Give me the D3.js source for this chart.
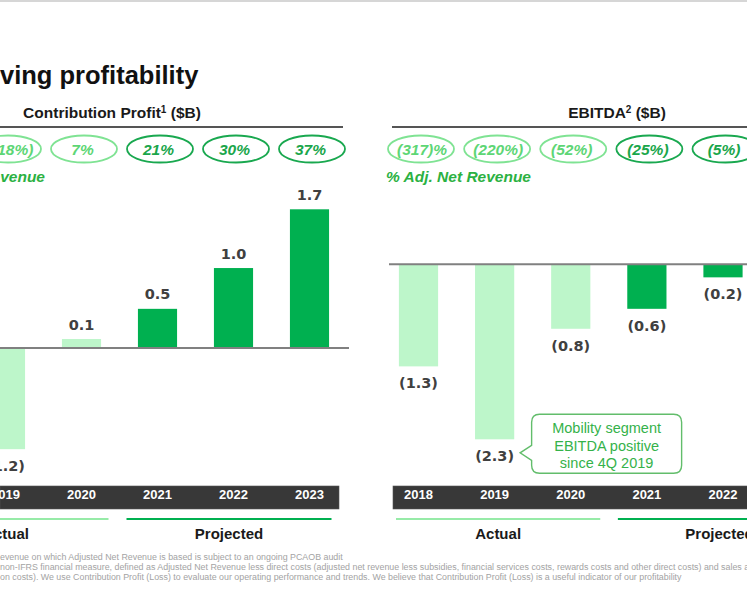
<!DOCTYPE html>
<html>
<head>
<meta charset="utf-8">
<script src="https://cdn.jsdelivr.net/npm/d3@7"></script>
<style>
  html, body { margin: 0; padding: 0; background: #ffffff; overflow: hidden; }
  svg { display: block; }
</style>
</head>
<body>
<svg id="chart" width="747" height="598"></svg>
<script>
// ---------------- DATA ----------------
const cpYears   = ["2019", "2020", "2021", "2022", "2023"];
const cpValues  = [-1.24, 0.11, 0.48, 0.98, 1.70];
const cpMargins = ["(118%)", "7%", "21%", "30%", "37%"];

const ebYears   = ["2018", "2019", "2020", "2021", "2022"];
const ebValues  = [-1.33, -2.28, -0.84, -0.58, -0.17];
const ebMargins = ["(317)%", "(220%)", "(52%)", "(25%)", "(5%)"];

const firstProjectedYear = "2021";
const titleText   = "ving profitability";
const cpHeading   = "Contribution Profit";
const ebHeading   = "EBITDA";
const marginLabel = "% Adj. Net Revenue";
const calloutLines = ["Mobility segment", "EBITDA positive", "since 4Q 2019"];
const footnotes = [
  "evenue on which Adjusted Net Revenue is based is subject to an ongoing PCAOB audit",
  "non-IFRS financial measure, defined as Adjusted Net Revenue less direct costs (adjusted net revenue less subsidies, financial services costs, rewards costs and other direct costs) and sales a",
  "on costs). We use Contribution Profit (Loss) to evaluate our operating performance and trends.  We believe that Contribution Profit (Loss) is a useful indicator of our profitability"
];

// ---------------- STYLE ----------------
const C = {
  lightBar: "#bdf6ca", darkBar: "#00b050",
  lightRing: "#7fe393", darkRing: "#19a84f",
  lightRingText: "#5dd675", darkRingText: "#1aa64b",
  marginLbl: "#2bb142", label: "#404040", band: "#383838",
  rule: "#555555", zero: "#808080", calloutStroke: "#62bd6b", calloutText: "#35b24a",
  foot: "#a3a3a3"
};
const SANS = "'Liberation Sans', Arial, sans-serif";
const LBL  = "'DejaVu Sans', Verdana, sans-serif";

const svg = d3.select("#chart");
svg.append("rect").attr("x", 0).attr("y", 0).attr("width", 747).attr("height", 2).attr("fill", "#d6d6d6");

svg.append("text").attr("x", 0).attr("y", 84)
  .attr("font-family", SANS).attr("font-weight", 700).attr("font-size", 25.5)
  .attr("fill", "#111").text(titleText);

const fmt = d3.format(".1f");
const labelOf = v => v < 0 ? `(${fmt(-v)})` : fmt(v);
const isProj = y => +y >= +firstProjectedYear;

function drawPanel(o) {
  const g = svg.append("g");
  const x = d3.scalePoint().domain(o.years).range(o.xRange);
  const step = x.step();
  const bw = step * 0.515;
  const y = d3.scaleLinear().domain(o.yDomain).range(o.yRange);
  const data = o.years.map((yr, i) => ({ yr, v: o.values[i], m: o.margins[i] }));

  // heading
  const h = g.append("text").attr("x", o.headX).attr("y", 118).attr("text-anchor", "middle")
    .attr("font-family", SANS).attr("font-weight", 700).attr("font-size", 15.5).attr("fill", "#1a1a1a");
  h.append("tspan").text(o.heading);
  h.append("tspan").attr("font-size", 10).attr("dy", -5).text(o.sup);
  h.append("tspan").attr("dy", 5).text("  ($B)");

  g.append("line").attr("x1", o.ruleX[0]).attr("x2", o.ruleX[1]).attr("y1", 127).attr("y2", 127)
    .attr("stroke", C.rule).attr("stroke-width", 2);

  // margin ellipses
  const eg = g.selectAll("g.ring").data(data).join("g").attr("class", "ring")
    .attr("transform", d => `translate(${x(d.yr) + 2.5},149)`);
  eg.append("ellipse").attr("rx", 33).attr("ry", 13.5).attr("fill", "none")
    .attr("stroke", d => isProj(d.yr) ? C.darkRing : C.lightRing).attr("stroke-width", 1.8);
  eg.append("text").attr("x", d => d.m.length > 5 ? 1 : -1.5).attr("y", 5.5).attr("text-anchor", "middle")
    .attr("font-family", SANS).attr("font-weight", 700).attr("font-style", "italic").attr("font-size", 15.5)
    .attr("fill", d => isProj(d.yr) ? C.darkRingText : C.lightRingText).text(d => d.m);

  g.append("text").attr("x", o.marginLblX).attr("y", 182).attr("text-anchor", o.marginLblAnchor)
    .attr("font-family", SANS).attr("font-weight", 700).attr("font-style", "italic").attr("font-size", 15.5)
    .attr("fill", C.marginLbl).text(marginLabel);

  // bars
  g.selectAll("rect.bar").data(data).join("rect").attr("class", "bar")
    .attr("x", d => x(d.yr) - bw / 2).attr("width", bw)
    .attr("y", d => Math.min(y(d.v), y(0))).attr("height", d => Math.abs(y(d.v) - y(0)))
    .attr("fill", d => isProj(d.yr) ? C.darkBar : C.lightBar);

  g.append("line").attr("x1", o.zeroX[0]).attr("x2", o.zeroX[1]).attr("y1", y(0)).attr("y2", y(0))
    .attr("stroke", C.zero).attr("stroke-width", 2);

  g.selectAll("text.val").data(data).join("text").attr("class", "val")
    .attr("x", d => x(d.yr)).attr("y", d => d.v >= 0 ? y(d.v) - 9.5 : y(d.v) + 22)
    .attr("text-anchor", "middle").attr("font-family", LBL).attr("font-weight", 700).attr("font-size", 14.5)
    .attr("fill", C.label).text(d => labelOf(d.v));

  // year band
  g.append("rect").attr("x", o.bandX[0]).attr("y", 486).attr("width", o.bandX[1] - o.bandX[0]).attr("height", 23)
    .attr("fill", C.band).attr("stroke", "#555").attr("stroke-width", 0.6);
  g.selectAll("text.yr").data(data).join("text").attr("class", "yr")
    .attr("x", d => x(d.yr)).attr("y", 498.5).attr("text-anchor", "middle")
    .attr("font-family", SANS).attr("font-weight", 700).attr("font-size", 13).attr("fill", "#fff")
    .text(d => d.yr);

  // group lines and labels
  o.groups.forEach(gr => {
    const x1 = gr.x1, x2 = gr.x2;
    g.append("line").attr("x1", x1).attr("x2", x2).attr("y1", 519).attr("y2", 519)
      .attr("stroke", gr.color).attr("stroke-width", 2);
    g.append("text").attr("x", (x1 + x2) / 2).attr("y", 539).attr("text-anchor", "middle")
      .attr("font-family", SANS).attr("font-weight", 700).attr("font-size", 15).attr("fill", "#1a1a1a")
      .text(gr.name);
  });
  return { x, y, step };
}

// ---------- Left: Contribution Profit ----------
const L = (() => {
  const xs = d3.scalePoint().domain(cpYears).range([5.5, 309.5]);
  const st = xs.step();
  return drawPanel({
    years: cpYears, values: cpValues, margins: cpMargins,
    xRange: [5.5, 309.5], yDomain: [0, 1.7], yRange: [348, 209.3],
    heading: cpHeading, sup: "1", headX: 112,
    ruleX: [0, 343], zeroX: [0, 349], bandX: [0, 339],
    marginLblX: 45, marginLblAnchor: "end",
    groups: [
      { name: "Actual", x1: xs("2019") - st - 26, x2: xs("2020") + 27, color: "#97eba8" },
      { name: "Projected", x1: xs("2021") - 31, x2: xs("2023") + 22, color: "#00b050" }
    ]
  });
})();

// ---------- Right: EBITDA ----------
const R = (() => {
  const xs = d3.scalePoint().domain(ebYears).range([418.5, 723]);
  const st = xs.step();
  return drawPanel({
    years: ebYears, values: ebValues, margins: ebMargins,
    xRange: [418.5, 723], yDomain: [0, -2.28], yRange: [264.3, 439.3],
    heading: ebHeading, sup: "2", headX: 617,
    ruleX: [392, 747], zeroX: [389, 747], bandX: [393, 748],
    marginLblX: 386, marginLblAnchor: "start",
    groups: [
      { name: "Actual", x1: xs("2018") - 22.5, x2: xs("2020") + 29.5, color: "#97eba8" },
      { name: "Projected", x1: xs("2021") - 29, x2: xs("2021") + st * 2 + 22, color: "#00b050" }
    ]
  });
})();

// ---------- Callout ----------
(() => {
  const tipX = R.x("2019") + 25.5, tipY = R.y(ebValues[1]) + 13.5;
  const x0 = tipX + 11.5, x1 = x0 + 150, y0 = tipY - 38.5, y1 = tipY + 20.5, r = 8;
  const p = d3.path();
  p.moveTo(x0 + r, y0); p.lineTo(x1 - r, y0); p.quadraticCurveTo(x1, y0, x1, y0 + r);
  p.lineTo(x1, y1 - r); p.quadraticCurveTo(x1, y1, x1 - r, y1);
  p.lineTo(x0 + r, y1); p.quadraticCurveTo(x0, y1, x0, y1 - r);
  p.lineTo(x0, tipY + 7.5); p.lineTo(tipX, tipY); p.lineTo(x0, tipY - 7.5);
  p.lineTo(x0, y0 + r); p.quadraticCurveTo(x0, y0, x0 + r, y0); p.closePath();
  svg.append("path").attr("d", p.toString()).attr("fill", "#fff")
    .attr("stroke", C.calloutStroke).attr("stroke-width", 1.4);
  svg.selectAll("text.co").data(calloutLines).join("text").attr("class", "co")
    .attr("x", (x0 + x1) / 2).attr("y", (d, i) => y0 + 19 + i * 17.2).attr("text-anchor", "middle")
    .attr("font-family", SANS).attr("font-size", 14.5).attr("fill", C.calloutText).text(d => d);
})();

// ---------- Footnotes ----------
svg.selectAll("text.fn").data(footnotes).join("text").attr("class", "fn")
  .attr("x", 0).attr("y", (d, i) => 560 + i * 10.2)
  .attr("font-family", SANS).attr("font-size", 8.85).attr("fill", C.foot).text(d => d);
</script>
</body>
</html>
